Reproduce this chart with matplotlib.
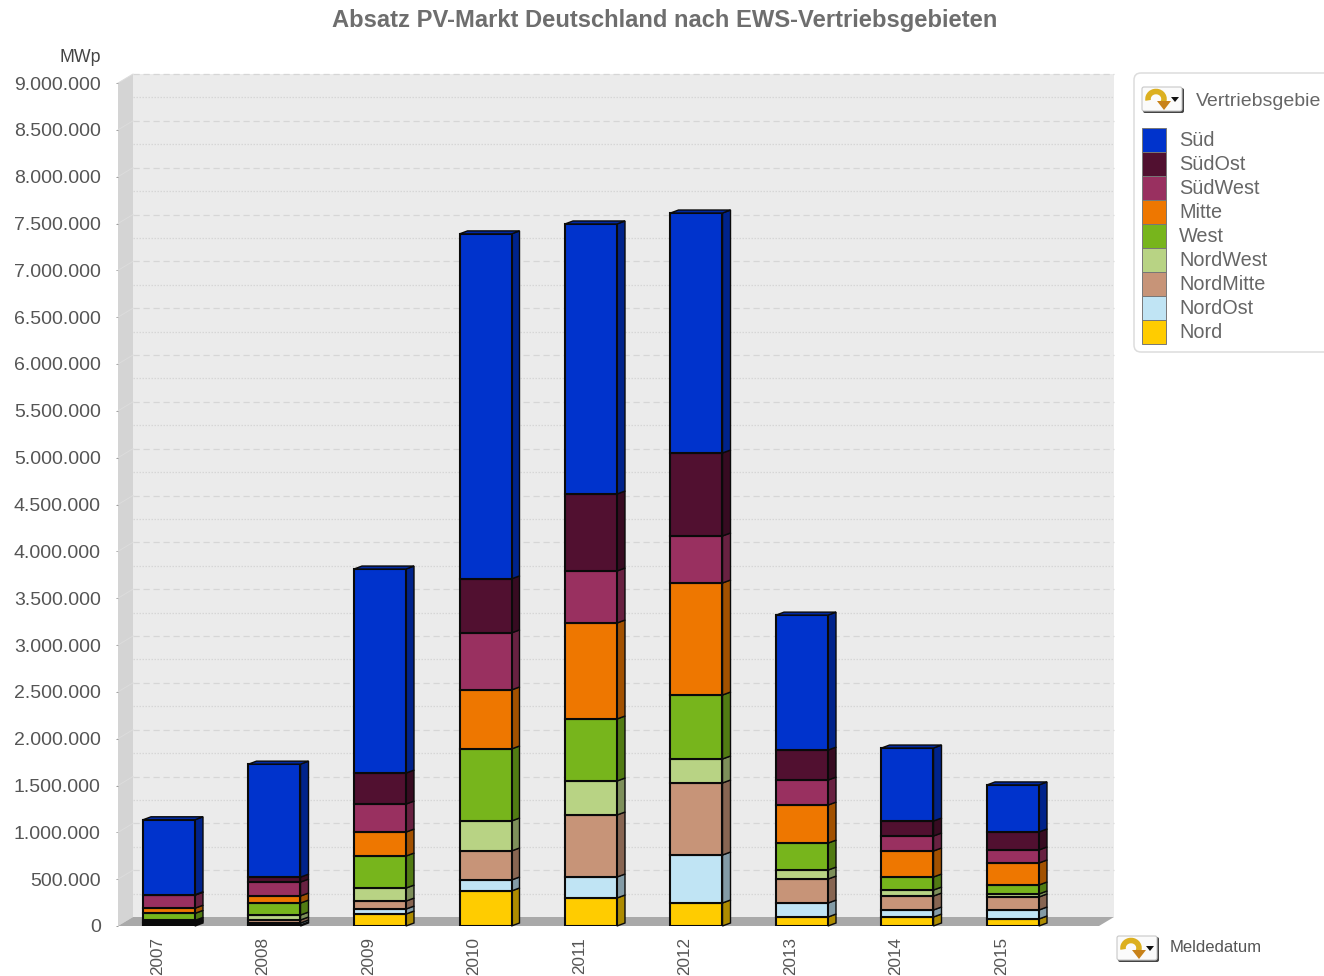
import numpy as np
import matplotlib
matplotlib.use('Agg')
import matplotlib.pyplot as plt
from matplotlib.patches import FancyBboxPatch, Rectangle, Arc, Polygon

plt.rcParams['font.family'] = ['Liberation Sans', 'DejaVu Sans']

years = ['2007', '2008', '2009', '2010', '2011', '2012', '2013', '2014', '2015']
regions = ['Süd', 'SüdOst', 'SüdWest', 'Mitte', 'West', 'NordWest', 'NordMitte', 'NordOst', 'Nord']
colors = ['#0033cc', '#511030', '#993060', '#ee7700', '#77b51c',
          '#b8d384', '#c79478', '#c0e4f4', '#ffcc00']

# yearly sales per region, in thousands
sued = [800, 1206, 2178, 3683, 2883, 2562, 1441, 779, 502]
suedost = [5, 53, 331, 577, 822, 886, 320, 160, 192]
suedwest = [139, 149, 299, 609, 555, 502, 267, 160, 139]
mitte = [55, 75, 256, 630, 1025, 1196, 406, 278, 235]
west = [75, 128, 342, 769, 662, 683, 288, 139, 96]
nordwest = [15, 53, 139, 320, 363, 256, 96, 64, 32]
nordmitte = [15, 32, 85, 310, 662, 769, 256, 149, 139]
nordost = [15, 21, 53, 117, 224, 512, 149, 75, 96]
nord = [15, 11, 128, 374, 299, 246, 96, 96, 75]

# bottom of the stack first
stack = [nord, nordost, nordmitte, nordwest, west, mitte, suedwest, suedost, sued]
stack_colors = colors[::-1]

W, H = 1324, 976
fig = plt.figure(figsize=(W / 100, H / 100), dpi=100)

# pixel box of the front plane of the chart
left, right, top, bottom = 118, 1099, 83, 926
ax = fig.add_axes([left / W, 1 - bottom / H, (right - left) / W, (bottom - top) / H])
step = 105.5
ax.set_xlim((left - 169) / step, (right - 169) / step)
ax.set_ylim(0, 9000000)
ax.patch.set_visible(False)
for s in ax.spines.values():
    s.set_visible(False)

# depth of the walls and of the bars, in data units
wall_x = 15 / step
wall_y = 9 / (843 / 9000000)
bar_x = 8 / step
bar_y = 3 / (843 / 9000000)
x0, x1 = ax.get_xlim()

ax.add_patch(Polygon([(x0 + wall_x, wall_y), (x1 + wall_x, wall_y), (x1 + wall_x, 9000000 + wall_y),
                      (x0 + wall_x, 9000000 + wall_y)], fc='#ebebeb', ec='none', zorder=1, clip_on=False))
ax.add_patch(Polygon([(x0, 0), (x0 + wall_x, wall_y), (x0 + wall_x, 9000000 + wall_y), (x0, 9000000)],
                     fc='#d4d4d4', ec='none', zorder=1, clip_on=False))

# gridlines sit on the back wall
for v in np.arange(250000, 9000001, 250000):
    major = v % 500000 == 0
    ax.plot([x0 + wall_x, x1 + wall_x], [v + wall_y, v + wall_y], color='#d6d6d6', lw=0.9,
            ls=(0, (5, 3)) if major else (0, (1.2, 1.2)), zorder=2, clip_on=False)
    if major:
        ax.plot([x0, x0 + wall_x], [v, v + wall_y], color='#dcdcdc', lw=0.7, zorder=2, clip_on=False)

ax.add_patch(Polygon([(x0, 0), (x1, 0), (x1 + wall_x, wall_y), (x0 + wall_x, wall_y)],
                     fc='#a9a9a9', ec='none', zorder=3, clip_on=False))

pos = np.arange(len(years))
width = 52 / step
edge = '#0a0a0a'
base = np.zeros(len(years))
for vals, c in zip(stack, stack_colors):
    v = np.array(vals) * 1000.0
    rgb = np.array(matplotlib.colors.to_rgb(c)) * 0.68
    for p, b, h in zip(pos, base, v):
        xr = p + width / 2
        ax.add_patch(Polygon([(xr, b), (xr + bar_x, b + bar_y), (xr + bar_x, b + h + bar_y), (xr, b + h)],
                             fc=rgb, ec=edge, lw=1.0, zorder=4, clip_on=False))
    ax.bar(pos, v, width, bottom=base, color=c, edgecolor=edge, linewidth=1.5, zorder=5)
    base = base + v

# top faces take the colour of the uppermost segment
rgb = np.array(matplotlib.colors.to_rgb(stack_colors[-1])) * 0.8
for p, t in zip(pos, base):
    xa, xb = p - width / 2, p + width / 2
    ax.add_patch(Polygon([(xa, t), (xb, t), (xb + bar_x, t + bar_y), (xa + bar_x, t + bar_y)],
                         fc=rgb, ec=edge, lw=1.0, zorder=6, clip_on=False))

yticks = np.arange(0, 9000001, 500000)
ax.set_yticks(yticks)
ax.set_yticklabels([f'{v:,}'.replace(',', '.') for v in yticks], fontsize=14, color='#555555',
                   va='center_baseline')
ax.tick_params(axis='y', length=1.5, width=0.7, color='#999999', pad=11)
ax.set_xticks([])
for p, y in zip(pos, years):
    ax.annotate(y, (p, 0), xytext=(-8.5, -8), textcoords='offset points', rotation=90,
                ha='center', va='top', fontsize=12.3, color='#555555', annotation_clip=False)

# overlay in pixel coordinates for title, legend box and the small buttons
ov = fig.add_axes([0, 0, 1, 1], zorder=10)
ov.set_xlim(0, W)
ov.set_ylim(H, 0)
ov.axis('off')
ov.patch.set_visible(False)

ov.text(665, 20, 'Absatz PV-Markt Deutschland nach EWS-Vertriebsgebieten', ha='center', va='center',
        fontsize=17.1, fontweight='bold', color='#6e6e6e')
ov.text(101, 58, 'MWp', ha='right', va='center', fontsize=12.8, color='#444444')


def button(x, y):
    ov.add_patch(FancyBboxPatch((x + 1, y + 1), 41, 25, boxstyle='round,pad=0,rounding_size=2',
                                fc='#444444', ec='none'))
    ov.add_patch(FancyBboxPatch((x, y), 40, 24, boxstyle='round,pad=0,rounding_size=2',
                                fc='#fbfbfb', ec='#c8c8c8', lw=0.8))
    cx, cy = x + 14, y + 12
    ov.add_patch(Arc((cx, cy), 16, 15, theta1=170, theta2=400, color='#dcb020', lw=4))
    ov.add_patch(Polygon([(cx + 1, cy + 2), (cx + 15, cy + 2), (cx + 8, cy + 11)], fc='#c8821a', ec='none'))
    ov.add_patch(Polygon([(x + 29, y + 10), (x + 37, y + 10), (x + 33, y + 15)], fc='#111111', ec='none'))


ov.add_patch(FancyBboxPatch((1134, 73), 260, 279, boxstyle='round,pad=0,rounding_size=7',
                            fc='white', ec='#dddddd', lw=1.1))
button(1142, 87)
ov.text(1196, 101, 'Vertriebsgebie', va='center', fontsize=14, color='#666666')
for i, (name, c) in enumerate(zip(regions, colors)):
    ov.add_patch(Rectangle((1142, 128 + i * 24), 24, 24, fc=c, ec='#777777', lw=0.7))
    ov.text(1179, 141 + i * 24, name, va='center', fontsize=14.3, color='#666666')

button(1117, 936)
ov.text(1170, 948, 'Meldedatum', va='center', fontsize=12, color='#555555')

fig.savefig('out.png', dpi=100)
